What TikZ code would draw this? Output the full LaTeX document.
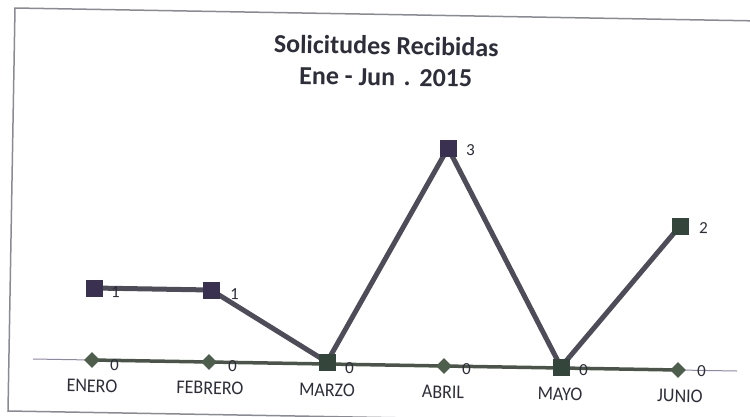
\documentclass[tikz,border=0pt]{standalone}
\usepackage{fontspec}
\setmainfont{Carlito}
\usetikzlibrary{shapes.geometric}
\definecolor{framec}{HTML}{8A8A94}
\definecolor{linec}{HTML}{4E4C58}
\definecolor{linetwo}{HTML}{4A5448}
\definecolor{sqpur}{HTML}{3A3050}
\definecolor{sqgrn}{HTML}{34463C}
\definecolor{diac}{HTML}{4E5E4C}
\definecolor{axisc}{HTML}{8E86A8}
\definecolor{txtc}{HTML}{2E2E3A}
\tikzset{
  sq/.style={rectangle, minimum size=17pt, inner sep=0pt, fill=#1},
  dia/.style={diamond, minimum size=16pt, inner sep=0pt, fill=diac},
  serone/.style={draw=linec, line width=5pt, line join=round},
  sertwo/.style={draw=linetwo, line width=3.5pt, line join=round},
  vlab/.style={font=\fontsize{17}{17}\selectfont, text=txtc, anchor=west, inner sep=0pt, rotate=-1},
  mlab/.style={font=\fontsize{18}{18}\selectfont, text=txtc, inner sep=0pt, rotate=-1, yscale=1.08},
  ttl/.style={font=\bfseries\fontsize{26}{31}\selectfont, text=txtc, align=center, inner sep=0pt, rotate=-1}
}
\begin{document}
\begin{tikzpicture}[x=1pt,y=-1pt]
\useasboundingbox (0,0) rectangle (750,416);
\begin{scope}
\clip (0,0) rectangle (750,416);
\draw[framec, line width=1.5pt] (15,8) -- (762,21) -- (755,424) -- (8,411) -- cycle;
\end{scope}
% title
\node[ttl] (title) at (386,61) {Solicitudes Recibidas\\Ene - Jun\,\,.\,\,2015};
% coordinates
\coordinate (axs) at (33,359);
\coordinate (axe) at (737,371);
\coordinate (a1) at (94,288);
\coordinate (a2) at (211,290);
\coordinate (a3) at (327,362);
\coordinate (a4) at (448,148);
\coordinate (a5) at (561,367);
\coordinate (a6) at (680,226);
\coordinate (b1) at (92,360);
\coordinate (b2) at (209,362);
\coordinate (b3) at (327,364);
\coordinate (b4) at (444,366);
\coordinate (b5) at (561,368);
\coordinate (b6) at (678,370);
% axis
\draw[axisc, line width=1pt] (axs) -- (axe);
% series two
\draw[sertwo] (b1) -- (b2) -- (b3) -- (b4) -- (b5) -- (b6);
\foreach \i in {1,2,4,6} \node[dia] (db\i) at (b\i) {};
% series one
\draw[serone] (a1) -- (a2) -- (a3) -- (a4) -- (a5) -- (a6);
\node[sq=sqpur] (da1) at (a1) {};
\node[sq=sqpur] (da2) at (a2) {};
\node[sq=sqgrn] (da3) at (a3) {};
\node[sq=sqpur] (da4) at (a4) {};
\node[sq=sqgrn] (da5) at (a5) {};
\node[sq=sqgrn] (da6) at (a6) {};
% value labels series one
\node[vlab] (la1) at (111,292) {1};
\node[vlab] (la2) at (230,294) {1};
\node[vlab] (la4) at (466,150) {3};
\node[vlab] (la6) at (699,228) {2};
% value labels series two
\node[vlab] (lb1) at (110,365) {0};
\node[vlab] (lb2) at (228,366) {0};
\node[vlab] (lb3) at (345,368) {0};
\node[vlab] (lb4) at (462,369) {0};
\node[vlab] (lb5) at (579,370) {0};
\node[vlab] (lb6) at (697,371) {0};
% month labels
\node[mlab] (m1) at (92,386) {ENERO};
\node[mlab] (m2) at (210,388) {FEBRERO};
\node[mlab] (m3) at (327,390) {MARZO};
\node[mlab] (m4) at (443,392) {ABRIL};
\node[mlab] (m5) at (560,394) {MAYO};
\node[mlab] (m6) at (680,396) {JUNIO};
\end{tikzpicture}
\end{document}
